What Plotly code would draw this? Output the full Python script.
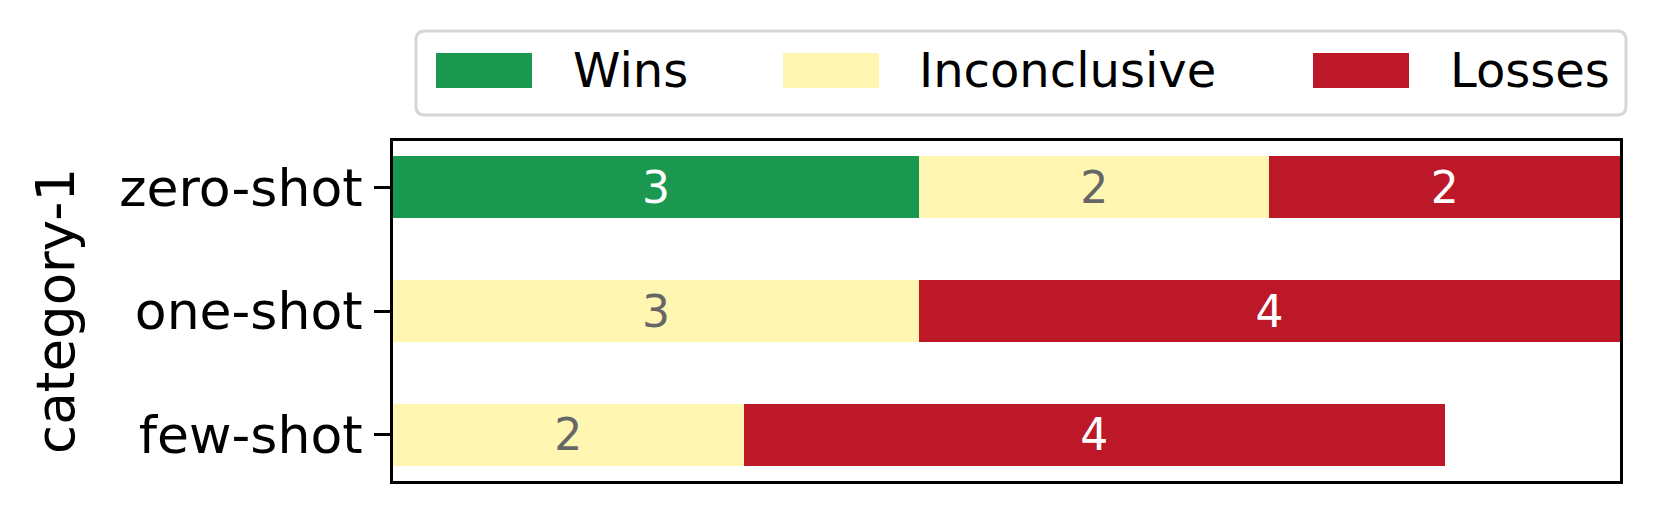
import plotly.graph_objects as go

categories = ["zero-shot", "one-shot", "few-shot"]
wins = [3, 0, 0]
inconclusive = [2, 3, 2]
losses = [2, 4, 4]
series_names = ["Wins", "Inconclusive", "Losses"]

W, H = 1659, 513
OFF = 8  # page body margin shifts everything right/down
PX0, PX1, PY0, PY1 = 393, 1620, 141, 481  # plot area in reference pixels
FONT = "DejaVu Sans"

colors = ["#1b9850", "#fff6b2", "#bc1827"]
text_colors = ["white", "#666666", "white"]


def px(x):
    return (x - PX0) / (PX1 - PX0)


def py(y):
    return (PY1 - y) / (PY1 - PY0)


fig = go.Figure()
for name, vals, col, tcol in zip(series_names, [wins, inconclusive, losses], colors, text_colors):
    fig.add_bar(
        name=name, y=categories, x=vals, orientation="h",
        marker=dict(color=col, line=dict(width=0)),
        text=[str(v) if v else "" for v in vals],
        textposition="inside", insidetextanchor="middle", constraintext="none",
        textfont=dict(family=FONT, size=44, color=tcol),
        width=0.5, showlegend=False,
    )

# legend drawn by hand (matplotlib-style frame and wide swatches)
lx0, lx1, ly0, ly1, r = 416, 1626, 31, 115, 9
path = (f"M {px(lx0 + r)},{py(ly0)} L {px(lx1 - r)},{py(ly0)} Q {px(lx1)},{py(ly0)} {px(lx1)},{py(ly0 + r)} "
        f"L {px(lx1)},{py(ly1 - r)} Q {px(lx1)},{py(ly1)} {px(lx1 - r)},{py(ly1)} "
        f"L {px(lx0 + r)},{py(ly1)} Q {px(lx0)},{py(ly1)} {px(lx0)},{py(ly1 - r)} "
        f"L {px(lx0)},{py(ly0 + r)} Q {px(lx0)},{py(ly0)} {px(lx0 + r)},{py(ly0)} Z")
shapes = [dict(type="path", path=path, xref="paper", yref="paper",
               line=dict(color="#d6d6d6", width=3), fillcolor="white")]
annotations = []
swatch_x = [436, 783, 1313]
label_x = [571, 917, 1448]
for name, col, sx, tx in zip(series_names, colors, swatch_x, label_x):
    shapes.append(dict(type="rect", xref="paper", yref="paper",
                       x0=px(sx), x1=px(sx + 96), y0=py(88), y1=py(53),
                       fillcolor=col, line=dict(width=0)))
    annotations.append(dict(text=name, xref="paper", yref="paper", x=px(tx), y=py(70),
                            xanchor="left", yanchor="middle", showarrow=False,
                            font=dict(family=FONT, size=48, color="black")))

annotations.append(dict(text="category-1", xref="paper", yref="paper", x=px(55), y=0.5,
                        xanchor="center", yanchor="middle", textangle=-90, showarrow=False,
                        font=dict(family=FONT, size=53, color="black")))

fig.update_layout(
    width=W, height=H, barmode="stack",
    margin=dict(l=PX0 - OFF, r=W - PX1 + OFF, t=PY0 - OFF, b=H - PY1 + OFF),
    plot_bgcolor="white", paper_bgcolor="white",
    shapes=shapes, annotations=annotations,
    font=dict(family=FONT, color="black"),
)
fig.update_xaxes(range=[0, 7], showticklabels=False, ticks="", showgrid=False, zeroline=False,
                 showline=True, linecolor="black", linewidth=3, mirror=True)
fig.update_yaxes(type="category", categoryorder="array", categoryarray=categories[::-1],
                 range=[-0.375, 2.375], showgrid=False, zeroline=False,
                 showline=True, linecolor="black", linewidth=3, mirror=True,
                 ticks="outside", ticklen=16, tickwidth=3, tickcolor="black",
                 ticklabelstandoff=1, tickfont=dict(family=FONT, size=52, color="black"))

fig.write_html("out.html")
